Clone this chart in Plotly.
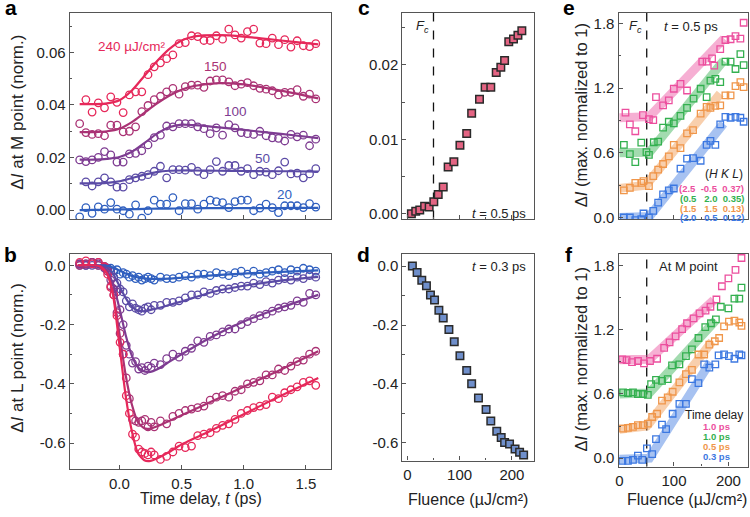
import plotly.graph_objects as go

W, H = 750, 517
FONT = "Liberation Sans, Arial, sans-serif"

# ---------------- data ----------------
# panel a (Delta I at M point)
t_a = [-0.32, -0.27, -0.22, -0.17, -0.12, -0.07, -0.02, 0.03, 0.08, 0.13, 0.18, 0.23, 0.28, 0.33, 0.38,
       0.43, 0.48, 0.53, 0.58, 0.63, 0.68, 0.73, 0.78, 0.83, 0.88, 0.93, 0.98, 1.03, 1.08, 1.13, 1.18,
       1.23, 1.28, 1.33, 1.38, 1.43, 1.48, 1.53, 1.58]
a_240 = [None, 0.0420, 0.0373, 0.0408, 0.0389, 0.0431, 0.0410, 0.0371, 0.0438, 0.0450, 0.0450, 0.0515,
         0.0545, 0.0560, 0.0576, 0.0590, 0.0633, 0.0637, 0.0663, 0.0660, 0.0645, 0.0645, 0.0663, 0.0650,
         0.0688, 0.0666, 0.0654, 0.0679, 0.0688, 0.0635, 0.0633, 0.0654, 0.0629, 0.0648, 0.0620, 0.0644,
         0.0625, 0.0622, 0.0633]
a_150 = [0.0329, 0.0295, 0.0288, 0.0291, 0.0283, 0.0323, 0.0323, 0.0298, 0.0300, 0.0317, 0.0375, 0.0398,
         0.0420, 0.0433, 0.0450, 0.0463, 0.0441, 0.0470, 0.0475, 0.0475, 0.0467, 0.0491, 0.0495, 0.0495,
         0.0488, 0.0473, 0.0479, 0.0485, 0.0473, 0.0463, 0.0460, 0.0454, 0.0438, 0.0448, 0.0448, 0.0458,
         0.0433, 0.0441, 0.0423]
a_100 = [0.0191, 0.0185, 0.0191, 0.0201, 0.0223, 0.0210, 0.0183, 0.0183, 0.0214, 0.0216, 0.0226, 0.0248,
         0.0276, 0.0285, 0.0320, 0.0317, 0.0329, 0.0329, 0.0329, 0.0317, 0.0310, 0.0291, 0.0313, 0.0285,
         0.0325, 0.0313, 0.0295, 0.0291, 0.0288, 0.0300, 0.0283, 0.0275, 0.0273, 0.0263, 0.0288, 0.0279,
         0.0285, 0.0245, 0.0270]
a_50 = [None, 0.0108, 0.0092, 0.0108, 0.0123, 0.0108, 0.0088, 0.0088, 0.0116, 0.0123, 0.0129, 0.0135,
        0.0148, 0.0167, 0.0123, 0.0154, 0.0154, 0.0152, 0.0163, 0.0148, 0.0135, 0.0154, 0.0185, 0.0148,
        0.0170, 0.0170, 0.0148, 0.0158, 0.0135, 0.0148, 0.0145, 0.0135, 0.0150, 0.0183, 0.0138, 0.0141,
        0.0123, 0.0138, 0.0158]
a_20 = [-0.0025, 0.0010, -0.0012, 0.0013, 0.0004, 0.0029, 0.0004, -0.0002, -0.0015, 0.0020, -0.0030,
        -0.0002, 0.0038, 0.0023, 0.0023, 0.0048, -0.0002, 0.0025, 0.0025, 0.0004, 0.0023, 0.0038, 0.0033,
        0.0029, 0.0010, 0.0033, 0.0038, 0.0038, -0.0002, 0.0008, 0.0023, 0.0010, -0.0009, 0.0017, 0.0017,
        0.0017, 0.0010, 0.0025, 0.0012]
tf_a = [-0.32, -0.2, -0.1, 0.0, 0.1, 0.2, 0.3, 0.4, 0.5, 0.6, 0.8, 1.0, 1.2, 1.4, 1.6]
af_240 = [0.0403, 0.0403, 0.0406, 0.0418, 0.0455, 0.0510, 0.0565, 0.0612, 0.0645, 0.0660, 0.0665, 0.0660, 0.0650, 0.0640, 0.0630]
af_150 = [0.0297, 0.0297, 0.0300, 0.0310, 0.0335, 0.0370, 0.0405, 0.0435, 0.0458, 0.0472, 0.0483, 0.0478, 0.0463, 0.0445, 0.0425]
af_100 = [0.0192, 0.0192, 0.0195, 0.0202, 0.0222, 0.0255, 0.0290, 0.0315, 0.0325, 0.0323, 0.0315, 0.0305, 0.0295, 0.0285, 0.0274]
af_50 = [0.0102, 0.0102, 0.0104, 0.0110, 0.0122, 0.0135, 0.0145, 0.0150, 0.0151, 0.0151, 0.0150, 0.0149, 0.0148, 0.0148, 0.0147]
af_20 = [0.0000, 0.0001, 0.0002, 0.0003, 0.0004, 0.0005, 0.0006, 0.0006, 0.0007, 0.0007, 0.0008, 0.0008, 0.0008, 0.0009, 0.0009]

# panel b (Delta I at L point)
t_b = [-0.32, -0.27, -0.22, -0.17, -0.12, -0.095, -0.07, -0.045, -0.02, 0.005, 0.03, 0.055, 0.08, 0.105,
       0.13, 0.155, 0.18, 0.205, 0.23, 0.255, 0.28, 0.33, 0.38, 0.43, 0.48, 0.53, 0.58, 0.63, 0.68, 0.73,
       0.78, 0.83, 0.88, 0.93, 0.98, 1.03, 1.08, 1.13, 1.18, 1.23, 1.28, 1.33, 1.38, 1.43, 1.48, 1.53, 1.58]
b_240 = [0.010, 0.015, 0.005, 0.010, -0.005, -0.030, -0.075, -0.100, -0.170, -0.260, -0.300, -0.440, -0.500,
         -0.570, -0.580, -0.620, -0.630, -0.635, -0.640, -0.630, -0.640, -0.655, -0.645, -0.630, -0.610,
         -0.615, -0.610, -0.575, -0.570, -0.565, -0.550, -0.540, -0.535, -0.520, -0.500, -0.490, -0.480,
         -0.475, -0.470, -0.445, -0.450, -0.430, -0.420, -0.410, -0.395, -0.390, -0.405]
b_150 = [0.0, 0.005, 0.01, 0.0, -0.005, -0.02, -0.07, -0.10, -0.16, -0.23, -0.30, -0.38, -0.45, -0.52, -0.525,
         -0.53, -0.525, -0.52, -0.545, -0.53, -0.545, -0.525, -0.535, -0.51, -0.50, -0.49, -0.485, -0.48,
         -0.475, -0.455, -0.445, -0.44, -0.445, -0.425, -0.42, -0.40, -0.395, -0.39, -0.37, -0.37, -0.35,
         -0.355, -0.34, -0.325, -0.32, -0.30, -0.29]
b_100 = [0.005, 0.0, 0.01, 0.005, -0.01, -0.02, -0.05, -0.08, -0.09, -0.15, -0.20, -0.27, -0.30, -0.33,
         -0.325, -0.35, -0.345, -0.355, -0.34, -0.345, -0.33, -0.335, -0.315, -0.30, -0.31, -0.29, -0.28,
         -0.255, -0.26, -0.24, -0.235, -0.225, -0.215, -0.215, -0.20, -0.19, -0.18, -0.17, -0.165, -0.155,
         -0.145, -0.14, -0.135, -0.12, -0.125, -0.095, -0.10]
b_50 = [0.0, 0.005, 0.0, 0.01, -0.005, -0.01, -0.02, -0.04, -0.06, -0.08, -0.09, -0.12, -0.14, -0.13, -0.145,
        -0.15, -0.155, -0.145, -0.14, -0.15, -0.135, -0.135, -0.125, -0.125, -0.12, -0.11, -0.10, -0.10,
        -0.09, -0.095, -0.085, -0.08, -0.08, -0.075, -0.07, -0.07, -0.06, -0.065, -0.055, -0.06, -0.05,
        -0.045, -0.05, -0.04, -0.045, -0.035, -0.04]
b_20 = [0.005, 0.0, 0.01, 0.0, -0.005, -0.01, -0.01, -0.02, -0.015, -0.03, -0.025, -0.03, -0.04, -0.035,
        -0.045, -0.04, -0.05, -0.045, -0.04, -0.045, -0.05, -0.04, -0.045, -0.045, -0.04, -0.035, -0.04,
        -0.03, -0.03, -0.035, -0.025, -0.03, -0.035, -0.025, -0.02, -0.03, -0.02, -0.03, -0.025, -0.02,
        -0.015, -0.025, -0.015, -0.02, -0.01, -0.015, -0.02]
tf_b = [-0.33, -0.2, -0.15, -0.1, -0.05, 0.0, 0.05, 0.1, 0.15, 0.2, 0.25, 0.3, 0.4, 0.5, 0.75, 1.0, 1.25, 1.6]
bf_240 = [0.0, 0.0, -0.005, -0.028, -0.105, -0.27, -0.44, -0.56, -0.635, -0.658, -0.66, -0.652, -0.63, -0.605, -0.555, -0.503, -0.45, -0.38]
bf_150 = [0.0, 0.0, -0.005, -0.025, -0.095, -0.23, -0.37, -0.47, -0.53, -0.55, -0.551, -0.544, -0.525, -0.506, -0.458, -0.41, -0.362, -0.29]
bf_100 = [0.0, 0.0, -0.004, -0.018, -0.065, -0.145, -0.235, -0.305, -0.345, -0.358, -0.36, -0.352, -0.326, -0.30, -0.24, -0.19, -0.15, -0.10]
bf_50 = [0.0, 0.0, -0.002, -0.008, -0.03, -0.07, -0.11, -0.14, -0.153, -0.155, -0.151, -0.146, -0.134, -0.122, -0.09, -0.069, -0.054, -0.039]
bf_20 = [0.0, 0.0, 0.0, -0.002, -0.008, -0.018, -0.028, -0.036, -0.041, -0.044, -0.046, -0.046, -0.045, -0.042, -0.034, -0.028, -0.023, -0.017]

fluence_labels = ["20", "50", "100", "150", "240 µJ/cm²"]

# panel c / d
F_c = [7.7, 16, 23.7, 33, 41.7, 50.6, 59, 68.6, 78, 89, 100.6, 113.5, 123, 138, 148.7, 159.6, 170, 178.8,
       186, 194, 203, 211.5, 219]
c_val = [0.0, 0.00035, 0.0005, 0.001, 0.0009, 0.0016, 0.0026, 0.0036, 0.0063, 0.007, 0.0092, 0.0108, 0.0135,
         0.0154, 0.017, 0.017, 0.019, 0.0197, 0.0206, 0.0231, 0.0235, 0.024, 0.0246]
F_d = [9.6, 18.6, 27.6, 36.5, 44.2, 52, 60.3, 68.6, 79.5, 89.7, 100.6, 113.5, 123, 136, 150.6, 159.6, 171,
       179.5, 186, 195.5, 206, 214.7, 222.4]
d_val = [0.0, -0.022, -0.048, -0.067, -0.098, -0.115, -0.150, -0.176, -0.215, -0.257, -0.304, -0.354, -0.399,
         -0.448, -0.487, -0.526, -0.56, -0.582, -0.599, -0.604, -0.621, -0.632, -0.641]
Fc = 50

# panel e
Fe_pink = [11, 19, 29, 43, 54, 62, 67, 80, 90.5, 99.7, 112, 124, 152, 160, 170, 174, 185, 194.5, 204, 213, 222, 228]
e_pink = [0.973, 0.863, 0.80, 0.949, 0.912, 0.903, 1.117, 1.04, 1.086, 1.194, 1.24, 1.178, 1.445, 1.445, 1.475,
          1.408, 1.561, 1.646, 1.653, 1.683, 1.659, 1.806]
Fe_green = [8, 19, 29, 40, 49.5, 54, 63, 71, 80, 90.5, 99.7, 112, 124, 136, 149, 160, 167, 176, 185, 194.5, 204, 213, 222, 228]
e_green = [0.673, 0.588, 0.514, 0.695, 0.606, 0.581, 0.698, 0.704, 0.833, 0.888, 0.872, 0.943, 1.016, 1.102,
           1.194, 1.117, 1.27, 1.286, 1.255, 1.445, 1.445, 1.377, 1.515, 1.414]
Fe_orange = [8, 19, 29, 40, 44, 54, 62, 71, 80, 90.5, 99.7, 112, 124, 135, 149, 160, 167, 176, 185, 194.5, 204, 213, 222, 228]
e_orange = [0.251, 0.275, 0.321, 0.321, 0.337, 0.291, 0.383, 0.444, 0.496, 0.567, 0.673, 0.643, 0.781, 0.811,
            0.964, 1.025, 1.016, 1.035, 1.04, 1.132, 1.132, 1.218, 1.255, 1.209]
Fe_blue = [8, 19, 29, 40, 44, 54, 62, 71, 80, 90.5, 99.7, 112, 124, 135, 149, 160, 167, 176, 185, 194.5, 204, 213, 222, 228]
e_blue = [0.0, 0.0, -0.024, -0.015, 0.037, 0.0, 0.061, 0.138, 0.214, 0.251, 0.269, 0.453, 0.545, 0.551, 0.526,
          0.673, 0.71, 0.673, 0.863, 0.934, 0.925, 0.934, 0.925, 0.888]
eb_F_pink, eb_pink = [0, 50, 55, 192], [0.925, 0.925, 0.935, 1.66]
eb_F_green, eb_green = [0, 50, 55, 191], [0.60, 0.60, 0.605, 1.454]
eb_F_orange, eb_orange = [0, 50, 55, 185], [0.27, 0.30, 0.34, 1.148]
eb_F_blue, eb_blue = [0, 50, 55, 191], [0.0, 0.0, 0.01, 0.87]
e_legend = ["(2.5  -0.5  0.37)", "(0.5   2.0  0.35)", "(1.5   1.5  0.13)", "(2.0   0.5  0.12)"]

# panel f
Ff_pink = [5, 13, 23, 34, 45, 56, 69, 82, 92, 103, 115, 124, 136, 147, 158, 167, 178, 188, 200, 213, 224]
f_pink = [0.923, 0.917, 0.898, 0.908, 0.886, 0.908, 0.929, 1.03, 1.083, 1.139, 1.206, 1.261, 1.307, 1.354,
          1.379, 1.415, 1.483, 1.607, 1.68, 1.76, 1.871]
Ff_green = [6.5, 15.5, 24.7, 33.8, 43, 52, 58, 67, 78, 88.5, 96.5, 110, 122, 133, 145, 157.5, 168, 177, 186,
            200, 211, 220, 224]
f_green = [0.615, 0.609, 0.615, 0.6, 0.6, 0.591, 0.692, 0.732, 0.723, 0.739, 0.868, 0.877, 0.954, 1.016,
           1.123, 1.224, 1.261, 1.298, 1.415, 1.4, 1.492, 1.492, 1.594]
Ff_orange = [6.5, 15.5, 24.7, 33.8, 43, 52, 60, 69, 78, 88.5, 97.6, 110, 122, 133, 145, 155.5, 165, 175, 183,
             192, 201, 211, 220, 224]
f_orange = [0.277, 0.283, 0.292, 0.308, 0.308, 0.323, 0.385, 0.415, 0.538, 0.569, 0.621, 0.708, 0.785, 0.825,
            0.969, 0.969, 1.062, 1.093, 1.123, 1.231, 1.277, 1.286, 1.268, 1.237]
Ff_blue = [5.3, 15.5, 24.7, 33.8, 41.7, 50.3, 60, 67, 78, 85.6, 97.6, 110, 122, 133, 145, 155.5, 165, 176, 182,
           192, 201, 211, 220, 224]
f_blue = [-0.025, -0.025, -0.016, 0.024, -0.016, 0.092, 0.037, 0.178, 0.314, 0.271, 0.415, 0.508, 0.508,
          0.739, 0.702, 0.877, 0.846, 0.877, 0.96, 0.97, 0.954, 0.929, 0.97, 0.96]
fb_F_pink, fb_pink = [0, 50, 55, 173], [0.92, 0.92, 0.925, 1.477]
fb_F_green, fb_green = [0, 50, 55, 177], [0.60, 0.60, 0.61, 1.29]
fb_F_orange, fb_orange = [0, 50, 55, 170], [0.27, 0.30, 0.33, 1.09]
fb_F_blue, fb_blue = [0, 50, 55, 167], [-0.01, 0.0, 0.0, 0.90]
f_legend = ["1.0 ps", "1.0 ps", "0.5 ps", "0.3 ps"]

# ---------------- styles ----------------
TCOL = ["#2F5FBF", "#5B4BA6", "#7E3C92", "#AA3274", "#E6285A"]   # 20,50,100,150,240
HCOL = ["#EC4F9E", "#33B04F", "#F0964A", "#3C78E1"]                # pink, green, orange, blue
PINK_FILL = "#E46483"
BLUE_FILL = "#6F8FCB"
EDGE = "#2a2a2a"
AXC = "#555555"


def px_x(p):
    return p / W


def px_y(p):
    return 1 - p / H


def axis(dom, rng, tickvals, ticktext=None, minor=None, labels=True, anchor=None):
    d = dict(domain=dom, range=rng, showline=True, mirror=True, linecolor=AXC, linewidth=1.2,
             ticks="inside", ticklen=4, tickwidth=1.1, tickcolor=AXC, showgrid=False, zeroline=False,
             tickmode="array", tickvals=tickvals, showticklabels=labels,
             tickfont=dict(size=15, color="#222", family=FONT), anchor=anchor, fixedrange=True)
    if ticktext is not None:
        d["ticktext"] = ticktext
    if minor is not None:
        d["minor"] = dict(dtick=minor, tick0=0, ticks="inside", ticklen=2.5, tickcolor=AXC, tickwidth=1, showgrid=False)
    return d


fig = go.Figure()

# panel a
series_a = [a_20, a_50, a_100, a_150, a_240]
fits_a = [af_20, af_50, af_100, af_150, af_240]
for i in range(5):
    fig.add_trace(go.Scatter(x=t_a, y=series_a[i], mode="markers", xaxis="x", yaxis="y",
                             marker=dict(symbol="circle-open", size=7.5, color=TCOL[i], line=dict(width=1.3))))
    fig.add_trace(go.Scatter(x=tf_a, y=fits_a[i], mode="lines", xaxis="x", yaxis="y",
                             line=dict(color=TCOL[i], width=2.2, shape="spline", smoothing=0.8)))

# panel b
series_b = [b_20, b_50, b_100, b_150, b_240]
fits_b = [bf_20, bf_50, bf_100, bf_150, bf_240]
for i in range(5):
    fig.add_trace(go.Scatter(x=t_b, y=series_b[i], mode="markers", xaxis="x2", yaxis="y2",
                             marker=dict(symbol="circle-open", size=7.5, color=TCOL[i], line=dict(width=1.3))))
for i in range(5):
    fig.add_trace(go.Scatter(x=tf_b, y=fits_b[i], mode="lines", xaxis="x2", yaxis="y2",
                             line=dict(color=TCOL[i], width=2.2, shape="spline", smoothing=0.6)))

# panel c / d
fig.add_trace(go.Scatter(x=F_c, y=c_val, mode="markers", xaxis="x3", yaxis="y3",
                         marker=dict(symbol="square", size=7.5, color=PINK_FILL, line=dict(color=EDGE, width=1.5))))
fig.add_trace(go.Scatter(x=F_d, y=d_val, mode="markers", xaxis="x4", yaxis="y4",
                         marker=dict(symbol="square", size=7.5, color=BLUE_FILL, line=dict(color=EDGE, width=1.5))))

# panel e
bands_e = [(eb_F_pink, eb_pink), (eb_F_green, eb_green), (eb_F_orange, eb_orange), (eb_F_blue, eb_blue)]
pts_e = [(Fe_pink, e_pink), (Fe_green, e_green), (Fe_orange, e_orange), (Fe_blue, e_blue)]
for i in range(4):
    fig.add_trace(go.Scatter(x=bands_e[i][0], y=bands_e[i][1], mode="lines", xaxis="x5", yaxis="y5",
                             line=dict(color=HCOL[i], width=9), opacity=0.45))
for i in range(4):
    fig.add_trace(go.Scatter(x=pts_e[i][0], y=pts_e[i][1], mode="markers", xaxis="x5", yaxis="y5",
                             marker=dict(symbol="square-open", size=6.5, color=HCOL[i], line=dict(width=1.3))))

# panel f
bands_f = [(fb_F_pink, fb_pink), (fb_F_green, fb_green), (fb_F_orange, fb_orange), (fb_F_blue, fb_blue)]
pts_f = [(Ff_pink, f_pink), (Ff_green, f_green), (Ff_orange, f_orange), (Ff_blue, f_blue)]
for i in range(4):
    fig.add_trace(go.Scatter(x=bands_f[i][0], y=bands_f[i][1], mode="lines", xaxis="x6", yaxis="y6",
                             line=dict(color=HCOL[i], width=9), opacity=0.45))
for i in range(4):
    fig.add_trace(go.Scatter(x=pts_f[i][0], y=pts_f[i][1], mode="markers", xaxis="x6", yaxis="y6",
                             marker=dict(symbol="square-open", size=6.5, color=HCOL[i], line=dict(width=1.3))))

# ---------------- axes ----------------
dxa = [px_x(67), px_x(329)]
dxc = [px_x(401), px_x(533)]
dxe = [px_x(618), px_x(748)]
dy_top = [px_y(222), px_y(13)]
dy_b = [px_y(475), px_y(257)]
dy_d = [px_y(466), px_y(257)]
dy_f = [px_y(472), px_y(257)]

lay = dict(
    xaxis=axis(dxa, [-0.40, 1.70], [0, 0.5, 1.0, 1.5], labels=False, anchor="y"),
    yaxis=axis(dy_top, [-0.0035, 0.075], [0, 0.02, 0.04, 0.06], ["0.00", "0.02", "0.04", "0.06"], minor=0.01, anchor="x"),
    xaxis2=axis(dxa, [-0.40, 1.70], [0, 0.5, 1.0, 1.5], ["0.0", "0.5", "1.0", "1.5"], anchor="y2"),
    yaxis2=axis(dy_b, [-0.689, 0.038], [0, -0.2, -0.4, -0.6], ["0.0", "-0.2", "-0.4", "-0.6"], minor=0.1, anchor="x2"),
    xaxis3=axis(dxc, [-9.5, 242], [0, 100, 200], minor=50, labels=False, anchor="y3"),
    yaxis3=axis(dy_top, [-0.00076, 0.0270], [0, 0.01, 0.02], ["0.00", "0.01", "0.02"], minor=0.005, anchor="x3"),
    xaxis4=axis(dxc, [-9.5, 242], [0, 100, 200], ["0", "100", "200"], minor=50, anchor="y4"),
    yaxis4=axis(dy_d, [-0.66, 0.041], [0, -0.2, -0.4, -0.6], ["0.0", "-0.2", "-0.4", "-0.6"], minor=0.1, anchor="x4"),
    xaxis5=axis(dxe, [-1.8, 236], [0, 100, 200], minor=50, labels=False, anchor="y5"),
    yaxis5=axis(dy_top, [-0.018, 1.898], [0, 0.6, 1.2, 1.8], ["0.0", "0.6", "1.2", "1.8"], minor=0.3, anchor="x5"),
    xaxis6=axis(dxe, [-1.8, 236], [0, 100, 200], ["0", "100", "200"], minor=50, anchor="y6"),
    yaxis6=axis(dy_f, [-0.078, 1.908], [0, 0.6, 1.2, 1.8], ["0.0", "0.6", "1.2", "1.8"], minor=0.3, anchor="x6"),
)

# dashed Fc lines
shapes = []
for xr, yr in [("x3", "y3"), ("x5", "y5"), ("x6", "y6")]:
    shapes.append(dict(type="line", xref=xr, yref=yr + " domain", x0=Fc, x1=Fc, y0=0, y1=1,
                       line=dict(color="#111", width=1.3, dash="dash"), layer="below"))

ann = []


def txt(x, y, s, size=13, color="#222", xanchor="center", angle=0, bold=False):
    ann.append(dict(x=px_x(x), y=px_y(y), xref="paper", yref="paper", text=s, showarrow=False,
                    xanchor=xanchor, yanchor="middle", textangle=angle,
                    font=dict(size=size, color=color, family=FONT, weight="bold" if bold else "normal")))


# panel letters
for lx, ly, s in [(8, 8, "a"), (8, 257, "b"), (362, 8, "c"), (362, 257, "d"), (568, 8, "e"), (568, 257, "f")]:
    txt(lx, ly, s, size=21, color="#000", bold=True)

# axis titles
txt(15, 113, "Δ<i>I</i> at M point (norm.)", size=17, angle=-90)
txt(15, 362, "Δ<i>I</i> at L point (norm.)", size=17, angle=-90)
txt(580, 117, "Δ<i>I</i> (max. normalized to 1)", size=16.5, angle=-90)
txt(580, 364, "Δ<i>I</i> (max. normalized to 1)", size=16.5, angle=-90)
txt(199, 504, "Time delay, <i>t</i> (ps)", size=16)
txt(467, 505, "Fluence (µJ/cm²)", size=16)
txt(687, 505, "Fluence (µJ/cm²)", size=16)

# panel a series labels (in data coords)
lab_pos = [(1.33, 0.0060), (1.153, 0.0198), (0.935, 0.0375), (0.774, 0.0547), (0.105, 0.0622)]
for i in range(5):
    ann.append(dict(x=lab_pos[i][0], y=lab_pos[i][1], xref="x", yref="y", text=fluence_labels[i],
                    showarrow=False, font=dict(size=13.5, color=TCOL[i], family=FONT)))

# c/d/e/f small texts
txt(421, 27, "<i>F<sub>c</sub></i>", size=13)
txt(498, 216, "<i>t</i> = 0.5 ps", size=13)
txt(498, 270, "<i>t</i> = 0.3 ps", size=13)
txt(635, 27, "<i>F<sub>c</sub></i>", size=13)
txt(691, 27, "<i>t</i> = 0.5 ps", size=13)
txt(688, 270, "At M point", size=13)

# legends e / f
txt(745, 176, "(<i>H K L</i>)", size=12, xanchor="right")
for i in range(4):
    txt(746, 190.5 + 10 * i, e_legend[i], size=9.5, color=HCOL[i], xanchor="right", bold=True)
txt(745, 420, "Time delay", size=12, xanchor="right")
for i in range(4):
    txt(732, 432 + 10 * i, f_legend[i], size=9.5, color=HCOL[i], xanchor="right", bold=True)

fig.update_layout(width=W, height=H, margin=dict(l=0, r=0, t=0, b=0), showlegend=False,
                  plot_bgcolor="white", paper_bgcolor="white", font=dict(family=FONT),
                  shapes=shapes, annotations=ann, **lay)

fix_page = ("var s=document.createElement('style');"
            "s.textContent='html,body{margin:0;padding:0;overflow:hidden;width:750px;height:517px;}';"
            "document.head.appendChild(s);")
fig.write_html("out.html", config={"displayModeBar": False}, post_script=fix_page)
